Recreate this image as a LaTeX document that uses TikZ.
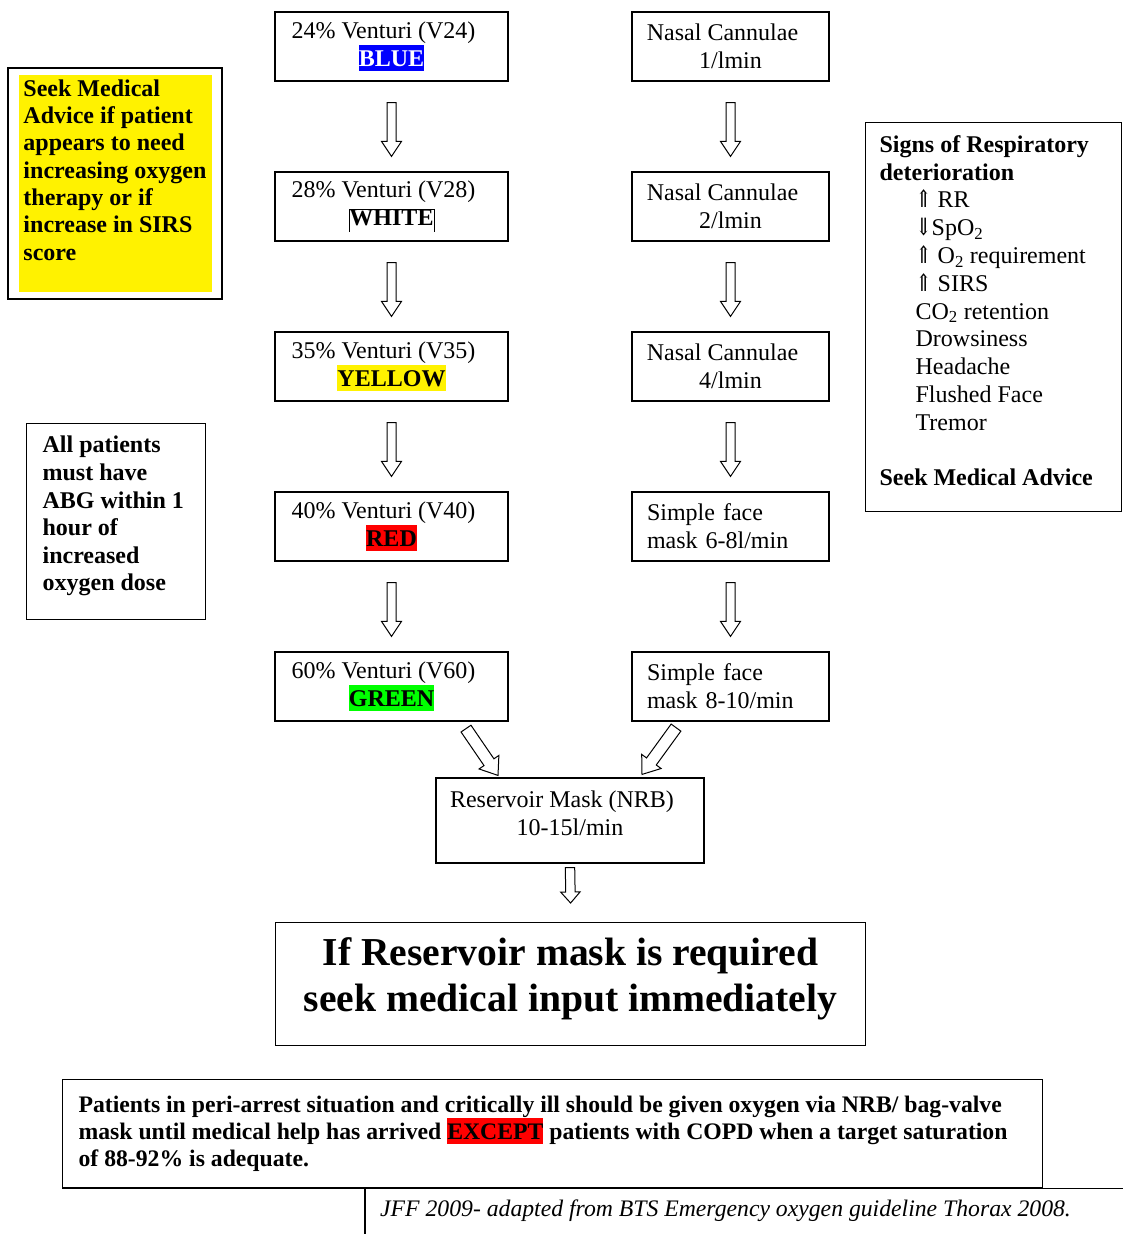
\documentclass[tikz,border=0pt]{standalone}
\usepackage{fontspec}
\setmainfont{Liberation Serif}
\newfontfamily\arrfont{DejaVu Serif}
\usepackage{graphicx}
\usetikzlibrary{calc}
\newcommand\fsz[2]{\fontsize{#1}{#2}\selectfont}
\newcommand\hl[2]{{\setlength{\fboxsep}{0pt}\colorbox{#1}{\rule[-0.22em]{0pt}{1.1em}#2}}}
\newcommand\upar{{\arrfont\scalebox{0.8}[1]{⇑}}}
\newcommand\dnar{{\arrfont\scalebox{0.8}[1]{⇓}}}
\newcommand\topframe[1]{\vrule width 0.9pt\vbox{\hrule height 0.9pt\hbox{\rule[-0.25em]{0pt}{0.9em}#1}}\vrule width 0.9pt}
\newcommand\ts{\hspace*{16pt}}
\newcommand\blockarr[5]{%
  \path ($(#2)!#5!(#1)$) coordinate (bab);
  \draw[blk] ($(#1)!#3!90:(#2)$) -- ($(bab)!#3!-90:(#1)$) -- ($(bab)!#4!-90:(#1)$) -- (#2)
    -- ($(bab)!#4!90:(#1)$) -- ($(bab)!#3!90:(#1)$) -- ($(#1)!#3!-90:(#2)$) -- cycle;}
\tikzset{
  box/.style={draw, line width=1.2pt, inner sep=0pt, align=center, font=\fsz{24}{28}},
  lbox/.style={box, minimum width=233pt, minimum height=69pt},
  rbox/.style={box, minimum width=197pt, minimum height=69pt},
  frame/.style={draw, line width=1.2pt, inner sep=0pt},
  blk/.style={draw, line width=1pt, fill=white},
}
\begin{document}
\begin{tikzpicture}[x=1pt, y=-1pt]
\fill[white] (0,0) rectangle (1123,1234);
\useasboundingbox (0,0) rectangle (1123,1234);

% left column
\node[lbox] (v24) at (391.5,46.5) {24\% Venturi (V24)\ts\\\hl{blue}{\textcolor{white}{\textbf{BLUE}}}};
\node[lbox] (v28) at (391.5,206.5) {28\% Venturi (V28)\ts\\\topframe{\textbf{WHITE}}};
\node[lbox] (v35) at (391.5,366.5) {35\% Venturi (V35)\ts\\\hl{yellow}{\textbf{YELLOW}}};
\node[lbox] (v40) at (391.5,526.5) {40\% Venturi (V40)\ts\\\hl{red}{\textbf{RED}}};
\node[lbox] (v60) at (391.5,686.5) {60\% Venturi (V60)\ts\\\hl{green}{\textbf{GREEN}}};

% right column
\node[rbox] (n1) at (730.5,46.5) {Nasal Cannulae\ts\\1/lmin};
\node[rbox] (n2) at (730.5,206.5) {Nasal Cannulae\ts\\2/lmin};
\node[rbox] (n4) at (730.5,366.5) {Nasal Cannulae\ts\\4/lmin};
\node[rbox, align=left, text width=167pt, inner xsep=15pt] (m68) at (730.5,526.5) {Simple face\\mask 6-8l/min};
\node[rbox, align=left, text width=167pt, inner xsep=15pt] (m810) at (730.5,686.5) {Simple face\\mask 8-10/min};

% reservoir
\node[box, minimum width=268pt, minimum height=85pt] (res) at (570,820.5) {Reservoir Mask (NRB)\ts\\10-15l/min\rule[-15pt]{0pt}{1pt}};

% big box
\node[frame, anchor=north west] (req) at (275,922) {\parbox[c][123pt][t]{590pt}{\centering\fsz{39.6}{46}\bfseries\vspace*{15pt}If Reservoir mask is required\\ seek medical input immediately}};

% yellow advice box
\node[frame, minimum width=214pt, minimum height=231pt] (seek) at (115,183.5)
  {\setlength{\fboxsep}{0pt}\colorbox{yellow}{\parbox[c][217pt][t]{193pt}{\fsz{24}{27.3}\bfseries\leftskip=5pt\vspace*{4.6pt}Seek Medical\\ Advice if patient\\ appears to need\\ increasing oxygen\\ therapy or if\\ increase in SIRS\\ score}}};

% ABG box
\node[frame, anchor=north west] (abg) at (26,423)
  {\parbox[c][196pt][t]{179pt}{\fsz{24}{27.6}\bfseries\leftskip=16pt\vspace*{12.6pt}All patients\\ must have\\ ABG within 1\\ hour of\\ increased\\ oxygen dose}};

% signs box
\node[frame, inner xsep=14pt, anchor=north west] (signs) at (865,122)
  {\parbox[c][389pt][t]{228pt}{\fsz{24}{27.8}\vspace*{12.7pt}\textbf{Signs of Respiratory}\\
   \textbf{deterioration}\\
   \hspace*{36pt}\upar\ RR\\
   \hspace*{36pt}\dnar SpO\textsubscript{2}\\
   \hspace*{36pt}\upar\ O\textsubscript{2} requirement\\
   \hspace*{36pt}\upar\ SIRS\\
   \hspace*{36pt}CO\textsubscript{2} retention\\
   \hspace*{36pt}Drowsiness\\
   \hspace*{36pt}Headache\\
   \hspace*{36pt}Flushed Face\\
   \hspace*{36pt}Tremor\\
   \mbox{}\\
   \textbf{Seek Medical Advice}}};

% bottom note
\node[frame, anchor=north west] (note) at (62,1079)
  {\parbox[c][108pt][t]{980pt}{\fsz{23.7}{27}\bfseries\leftskip=16pt\vspace*{16pt}Patients in peri-arrest situation and critically ill should be given oxygen via NRB/ bag-valve\\ mask until medical help has arrived \hl{red}{EXCEPT} patients with COPD when a target saturation\\ of 88-92\% is adequate.}};

% footer
\draw[line width=1.2pt] (note.south west) -- ($(note.south east)+(81,0)$);
\draw[line width=1.2pt] ($(note.south west)+(303,0)$) -- ($(note.south west)+(303,47)$);
\node[anchor=base west, inner sep=0pt, font=\fsz{23.7}{26}\itshape] (foot) at (380,1216) {JFF 2009- adapted from BTS Emergency oxygen guideline Thorax 2008.};

% arrows
\foreach \a/\b in {v24/v28, v28/v35, v35/v40, v40/v60, n1/n2, n2/n4, n4/m68, m68/m810} {
  \coordinate (s-\a) at ($(\a.south)+(0,21)$);
  \coordinate (e-\a) at ($(\b.north)+(0,-15)$);
  \blockarr{s-\a}{e-\a}{4.5pt}{10pt}{15pt}
}
\coordinate (sl) at ($(v60.south)+(74.5,7)$);
\coordinate (el) at ($(res.north)+(-72,-2)$);
\blockarr{sl}{el}{6pt}{12pt}{16pt}
\coordinate (sr) at ($(m810.south)+(-54.5,6)$);
\coordinate (er) at ($(res.north)+(72,-3)$);
\blockarr{sr}{er}{6pt}{12pt}{16pt}
\coordinate (sq) at ($(res.south)+(0,4)$);
\coordinate (eq) at ($(req.north)+(0,-19)$);
\blockarr{sq}{eq}{4.7pt}{9.7pt}{11pt}
\end{tikzpicture}
\end{document}
